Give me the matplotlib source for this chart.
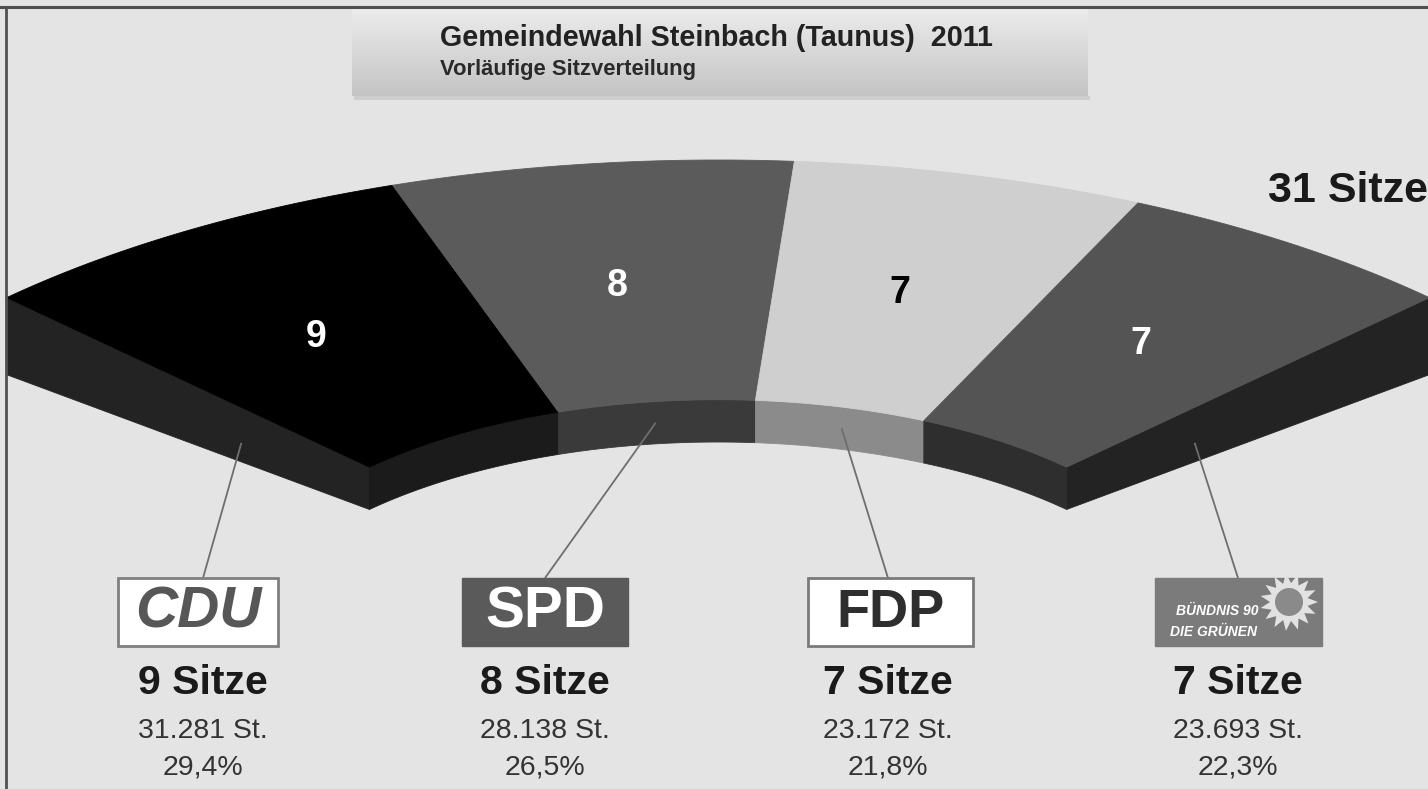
import numpy as np
import matplotlib
matplotlib.use('Agg')
import matplotlib.pyplot as plt
from matplotlib.patches import Polygon, Rectangle, Circle
from matplotlib.colors import LinearSegmentedColormap

# ---------------- data ----------------
parties = ['CDU', 'SPD', 'FDP', 'GRÜNE']
seats = [9, 8, 7, 7]
votes = [31281, 28138, 23172, 23693]
percents = [29.4, 26.5, 21.8, 22.3]
title = 'Gemeindewahl Steinbach (Taunus)  2011'
subtitle = 'Vorläufige Sitzverteilung'

# ---------------- style ----------------
top_colors = ['#000000', '#5b5b5b', '#cfcfcf', '#545454']
wall_colors = ['#1b1b1b', '#3a3a3a', '#8b8b8b', '#2e2e2e']
cap_colors = ['#232323', '#232323']
num_colors = ['white', 'white', 'black', 'white']
label_x = [203, 545, 888, 1238]
FONT = 'Liberation Sans'
BG = '#e4e4e4'

W, H = 1428, 789
fig = plt.figure(figsize=(W / 100, H / 100), dpi=100)
fig.patch.set_facecolor(BG)
ax = fig.add_axes([0, 0, 1, 1])
ax.set_xlim(0, W)
ax.set_ylim(H, 0)
ax.axis('off')
ax.set_facecolor(BG)

# perspective-like projection of the seat ring
CX, CY, A, B = 718, 630, 1006, 470
RIN = 0.49
PHI0, PHI1 = 135.0, 45.0


def thick(rho):
    return 9 + 68 * rho


def proj(rho, phi_deg, z=0.0):
    p = np.radians(phi_deg)
    x = CX + rho * A * np.cos(p)
    y = CY - rho * B * np.sin(p) + z * thick(rho)
    return np.column_stack([np.atleast_1d(x), np.atleast_1d(y)])


total = sum(seats)
cum = np.concatenate([[0], np.cumsum(seats)])
phis = PHI0 - (PHI0 - PHI1) * cum / total

# end caps
for k, (phi, col) in enumerate(zip([PHI0, PHI1], cap_colors)):
    rr = np.array([RIN, 1.0])
    top = proj(rr, phi, 0)
    bot = proj(rr[::-1], phi, 1)
    ax.add_patch(Polygon(np.vstack([top, bot]), closed=True, fc=col, ec=col, lw=0.6, zorder=2))

# inner walls
for i in range(len(seats)):
    ph = np.linspace(phis[i], phis[i + 1], 80)
    top = proj(RIN, ph, 0)
    bot = proj(RIN, ph[::-1], 1)
    ax.add_patch(Polygon(np.vstack([top, bot]), closed=True, fc=wall_colors[i],
                         ec=wall_colors[i], lw=0.6, zorder=2))

# top faces
for i in range(len(seats)):
    ph = np.linspace(phis[i], phis[i + 1], 120)
    outer = proj(1.0, ph, 0)
    inner = proj(RIN, ph[::-1], 0)
    ax.add_patch(Polygon(np.vstack([outer, inner]), closed=True, fc=top_colors[i],
                         ec=top_colors[i], lw=0.6, zorder=3))
    mid = 0.5 * (phis[i] + phis[i + 1]) + 0.5
    p = proj(0.745, mid, 0)[0]
    ax.text(p[0], p[1] + 3, str(seats[i]), ha='center', va='center', fontsize=27,
            fontweight='bold', color=num_colors[i], family=FONT, zorder=5)

# leader lines
for i in range(len(seats)):
    if i == 0:
        a = proj(0.67, PHI0, 0.65)[0]
    elif i == len(seats) - 1:
        a = proj(0.67, PHI1, 0.65)[0]
    else:
        a = proj(RIN, 0.5 * (phis[i] + phis[i + 1]), 0.5)[0]
    ax.plot([a[0], label_x[i]], [a[1], 578], color='#6e6e6e', lw=1.3, zorder=4,
            solid_capstyle='butt')

# frame lines
ax.plot([0, W], [7, 7], color='#505050', lw=2.2, zorder=10)
ax.plot([6, 6], [7, H], color='#505050', lw=2.0, zorder=10)

# title box
ax.add_patch(Rectangle((354, 96), 736, 4, fc='#cdcdcd', ec='none', zorder=1))
cmap = LinearSegmentedColormap.from_list('tb', ['#ececec', '#d8d8d8', '#c4c4c4'])
grad = np.linspace(0, 1, 100)[:, None]
ax.imshow(grad, extent=[352, 1088, 96, 8], cmap=cmap, aspect='auto', zorder=2)
ax.text(440, 46, title, fontsize=20.7, fontweight='bold', color='#222222',
        family=FONT, ha='left', va='baseline', zorder=5)
ax.text(440, 75, subtitle, fontsize=15.8, fontweight='bold', color='#2a2a2a',
        family=FONT, ha='left', va='baseline', zorder=5)

# total seats
ax.text(1268, 202, f'{total} Sitze', fontsize=31, fontweight='bold', color='#1a1a1a',
        family=FONT, ha='left', va='baseline', zorder=5)

# party logos
BY, BH = 578, 68
# CDU
ax.add_patch(Rectangle((label_x[0] - 85, BY), 160, BH, fc='white', ec='#808080', lw=2, zorder=4))
ax.text(label_x[0] - 5, BY + BH / 2 + 1, 'CDU', fontsize=42, fontweight='heavy', style='italic',
        color='#575757', family=FONT, ha='center', va='center', zorder=5)
# SPD
ax.add_patch(Rectangle((label_x[1] - 83, BY), 166, BH, fc='#5a5a5a', ec='#5a5a5a', lw=1, zorder=4))
ax.text(label_x[1], BY + BH / 2 + 1, 'SPD', fontsize=42, fontweight='bold',
        color='white', family=FONT, ha='center', va='center', zorder=5)
# FDP
ax.add_patch(Rectangle((label_x[2] - 80, BY), 165, BH, fc='white', ec='#7a7a7a', lw=2, zorder=4))
ax.text(label_x[2] + 2, BY + BH / 2 + 1, 'FDP', fontsize=39, fontweight='bold',
        color='#2e2e2e', family=FONT, ha='center', va='center', zorder=5)
# Grüne
gx0 = label_x[3] - 83
ax.add_patch(Rectangle((gx0, BY), 167, BH, fc='#7b7b7b', ec='#7b7b7b', lw=1, zorder=4))
sc = (gx0 + 134, BY + 24)
n = 15
ang = np.linspace(0, 2 * np.pi, 2 * n, endpoint=False)
rad = np.where(np.arange(2 * n) % 2 == 0, 29, 19)
star = np.column_stack([sc[0] + rad * np.cos(ang), sc[1] + rad * np.sin(ang)])
ax.add_patch(Polygon(star, closed=True, fc='#e2e2e2', ec='none', zorder=5))
ax.add_patch(Circle(sc, 14, fc='#8a8a8a', ec='none', zorder=6))
ax.text(gx0 + 62, BY + 37, 'BÜNDNIS 90', fontsize=10, fontweight='bold', style='italic',
        color='white', family=FONT, ha='center', va='baseline', zorder=7)
ax.text(gx0 + 58, BY + 58, 'DIE GRÜNEN', fontsize=10, fontweight='bold', style='italic',
        color='white', family=FONT, ha='center', va='baseline', zorder=7)

# seat / vote labels
for i in range(len(seats)):
    ax.text(label_x[i], 694, f'{seats[i]} Sitze', fontsize=29.5, fontweight='bold',
            color='#1a1a1a', family=FONT, ha='center', va='baseline', zorder=5)
    vtxt = f'{votes[i]:,}'.replace(',', '.') + ' St.'
    ax.text(label_x[i], 738, vtxt, fontsize=20.5, color='#333333', family=FONT,
            ha='center', va='baseline', zorder=5)
    ptxt = f'{percents[i]:.1f}'.replace('.', ',') + '%'
    ax.text(label_x[i], 774, ptxt, fontsize=20.5, color='#333333', family=FONT,
            ha='center', va='baseline', zorder=5)

fig.savefig('out.png', dpi=100, facecolor=BG)
